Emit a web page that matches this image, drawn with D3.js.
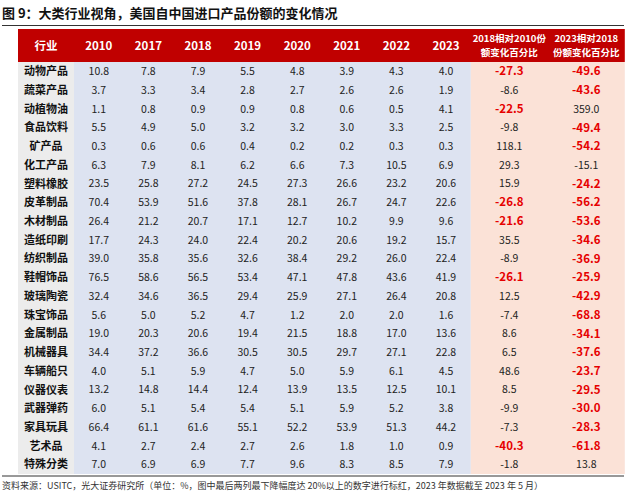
<!DOCTYPE html>
<html><head><meta charset="utf-8">
<script src="https://cdn.jsdelivr.net/npm/d3@7"></script>
<style>body{margin:0;background:#fff;font-family:"Noto Sans CJK SC","Noto Sans",sans-serif}</style>
</head><body><div id="chart"></div>
<script>
const industries = ["动物产品","蔬菜产品","动植物油","食品饮料","矿产品","化工产品","塑料橡胶","皮革制品","木材制品","造纸印刷","纺织制品","鞋帽饰品","玻璃陶瓷","珠宝饰品","金属制品","机械器具","车辆船只","仪器仪表","武器弹药","家具玩具","艺术品","特殊分类"];
const years = ["2010","2017","2018","2019","2020","2021","2022","2023"];
const shares = [
  [10.8,7.8,7.9,5.5,4.8,3.9,4.3,4.0],
  [3.7,3.3,3.4,2.8,2.7,2.6,2.6,1.9],
  [1.1,0.8,0.9,0.9,0.8,0.6,0.5,4.1],
  [5.5,4.9,5.0,3.2,3.2,3.0,3.3,2.5],
  [0.3,0.6,0.6,0.4,0.2,0.2,0.3,0.3],
  [6.3,7.9,8.1,6.2,6.6,7.3,10.5,6.9],
  [23.5,25.8,27.2,24.5,27.3,26.6,23.2,20.6],
  [70.4,53.9,51.6,37.8,28.1,26.7,24.7,22.6],
  [26.4,21.2,20.7,17.1,12.7,10.2,9.9,9.6],
  [17.7,24.3,24.0,22.4,20.2,20.6,19.2,15.7],
  [39.0,35.8,35.6,32.6,38.4,29.2,26.0,22.4],
  [76.5,58.6,56.5,53.4,47.1,47.8,43.6,41.9],
  [32.4,34.6,36.5,29.4,25.9,27.1,26.4,20.8],
  [5.6,5.0,5.2,4.7,1.2,2.0,2.0,1.6],
  [19.0,20.3,20.6,19.4,21.5,18.8,17.0,13.6],
  [34.4,37.2,36.6,30.5,30.5,29.7,27.1,22.8],
  [4.0,5.1,5.9,4.7,5.0,5.9,6.1,4.5],
  [13.2,14.8,14.4,12.4,13.9,13.5,12.5,10.1],
  [6.0,5.1,5.4,5.4,5.1,5.9,5.2,3.8],
  [66.4,61.1,61.6,55.1,52.2,53.9,51.3,44.2],
  [4.1,2.7,2.4,2.7,2.6,1.8,1.0,0.9],
  [7.0,6.9,6.9,7.7,9.6,8.3,8.5,7.9]
];
const chg2018vs2010 = [-27.3,-8.6,-22.5,-9.8,118.1,29.3,15.9,-26.8,-21.6,35.5,-8.9,-26.1,12.5,-7.4,8.6,6.5,48.6,8.5,-9.9,-7.3,-40.3,-1.8];
const chg2023vs2018 = [-49.6,-43.6,359.0,-49.4,-54.2,-15.1,-24.2,-56.2,-53.6,-34.6,-36.9,-25.9,-42.9,-68.8,-34.1,-37.6,-23.7,-29.5,-30.0,-28.3,-61.8,13.8];
const changeHeaders = [["2018相对2010份","额变化百分比"],["2023相对2018","份额变化百分比"]];

const W = 634, H = 500;
const svg = d3.select("#chart").append("svg").attr("width", W).attr("height", H);

svg.append("text").attr("x", 2).attr("y", 18)
  .style("font-size", "13px").style("font-weight", "bold").attr("fill", "#111")
  .text("图 9：大类行业视角，美国自中国进口产品份额的变化情况");
svg.append("line").attr("x1", 2).attr("x2", 624).attr("y1", 25.5).attr("y2", 25.5)
  .attr("stroke", "#333").attr("stroke-width", 1);

const cols = ["行业", ...years, "c1", "c2"];
const colWidths = [56, 49.6,49.6,49.6,49.6,49.6,49.6,49.6,49.6, 77, 77];
const x0 = 18;
const colX = {}; let acc = x0;
cols.forEach((c, i) => { colX[c] = [acc, colWidths[i]]; acc += colWidths[i]; });
const right = acc;

const headTop = 29, headH = 33;
const y = d3.scaleBand().domain(industries).range([headTop + headH, 474]);

// backgrounds
svg.append("rect").attr("x", x0).attr("y", headTop).attr("width", right - x0).attr("height", headH).attr("fill", "#c00000");
svg.append("rect").attr("x", x0).attr("y", y.range()[0]).attr("width", colWidths[0]).attr("height", y.range()[1]-y.range()[0]).attr("fill", "#ececec");
svg.append("rect").attr("x", colX["2010"][0]).attr("y", y.range()[0]).attr("width", colX["c1"][0]-colX["2010"][0]).attr("height", y.range()[1]-y.range()[0]).attr("fill", "#dde3f1");
svg.append("rect").attr("x", colX["c1"][0]).attr("y", y.range()[0]).attr("width", right-colX["c1"][0]).attr("height", y.range()[1]-y.range()[0]).attr("fill", "#fbe2d7");
svg.append("line").attr("x1", 2).attr("x2", 624).attr("y1", 476).attr("y2", 476).attr("stroke", "#333");

const cx = c => colX[c][0] + colX[c][1] / 2;
const hy = headTop + headH / 2;

// header
["行业", ...years].forEach(c => {
  svg.append("text").attr("x", cx(c)).attr("y", hy).attr("dy", "0.35em").attr("text-anchor", "middle")
    .attr("fill", "#fff").style("font-size", "11.5px").style("font-weight", "bold").text(c);
});
["c1","c2"].forEach((c, i) => {
  changeHeaders[i].forEach((t, j) => {
    svg.append("text").attr("x", cx(c)).attr("y", hy + (j ? 7 : -7)).attr("dy", "0.35em").attr("text-anchor", "middle")
      .attr("fill", "#fff").style("font-size", "9.5px").style("font-weight", "bold").text(t);
  });
});

// rows
const rows = svg.selectAll("g.row").data(industries).join("g").attr("class", "row")
  .attr("transform", d => `translate(0,${y(d) + y.bandwidth()/2})`);
rows.append("text").attr("x", cx("行业")).attr("dy", "0.35em").attr("text-anchor", "middle")
  .style("font-size", "11px").style("font-weight", "bold").attr("fill", "#111").text(d => d);
years.forEach((yr, j) => {
  rows.append("text").attr("x", cx(yr)).attr("dy", "0.35em").attr("text-anchor", "middle")
    .style("font-size", "10.5px").attr("fill", "#222").text((d, i) => shares[i][j].toFixed(1));
});
[["c1", chg2018vs2010], ["c2", chg2023vs2018]].forEach(([c, arr]) => {
  rows.append("text").attr("x", cx(c)).attr("dy", "0.35em").attr("text-anchor", "middle")
    .style("font-size", (d, i) => arr[i] <= -20 ? "11.5px" : "10.5px")
    .style("font-weight", (d, i) => arr[i] <= -20 ? "bold" : "normal")
    .attr("fill", (d, i) => arr[i] <= -20 ? "#e60000" : "#222")
    .text((d, i) => arr[i].toFixed(1));
});

svg.append("text").attr("x", 2).attr("y", 489).style("font-size", "9px").attr("fill", "#333")
  .text("资料来源：USITC，光大证券研究所（单位：%，图中最后两列最下降幅度达 20%以上的数字进行标红，2023 年数据截至 2023 年 5 月）");
</script></body></html>
